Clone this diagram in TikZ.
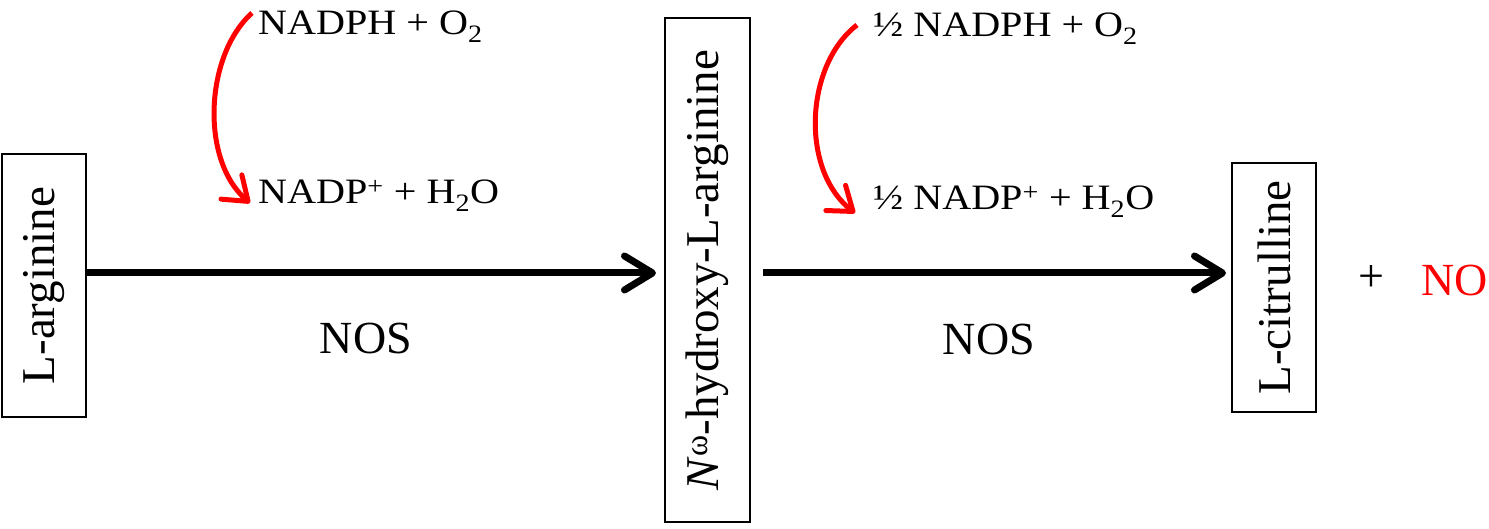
\documentclass[tikz,border=0pt]{standalone}
\usepackage{fontspec}
\usepackage{graphicx}
\setmainfont{Liberation Serif}
\usetikzlibrary{arrows.meta}
\newcommand{\wide}[1]{\scalebox{1.18}[1.05]{#1}}
\tikzset{
  molbox/.style={draw, line width=2pt, rotate=90, inner sep=0pt,
    font=\fontsize{47}{50}\selectfont},
  reag/.style={inner sep=0pt, anchor=base west, font=\fontsize{34}{40}\selectfont},
  biglabel/.style={inner sep=0pt, font=\fontsize{46}{50}\selectfont},
  mainarrow/.style={line width=7pt, -{Straight Barb[length=28pt,width=34pt,round]}},
  redarrow/.style={red, line width=5pt, -{Straight Barb[length=22pt,width=32pt,round]}}
}
\begin{document}
\begin{tikzpicture}[x=1pt,y=-1pt]
\useasboundingbox (0,0) rectangle (1489,529);
% boxes
\node[molbox, minimum width=263pt, minimum height=84pt] (b1) at (44,285.5) {L-arginine};
\node[molbox, minimum width=504pt, minimum height=85pt] (b2) at (707.5,270) {\textit{N}\raisebox{0.5ex}{\fontsize{32}{34}\selectfont ω}-hydroxy-L-arginine};
\node[molbox, minimum width=249pt, minimum height=84pt] (b3) at (1274,287.5) {L-citrulline};
% reagents
\node[reag] (r1) at (258,35) {\wide{NADPH + O\textsubscript{2}}};
\node[reag] (r2) at (258,204) {\wide{NADP\textsuperscript{+} + H\textsubscript{2}O}};
\node[reag] (r3) at (873,37) {\wide{½ NADPH + O\textsubscript{2}}};
\node[reag] (r4) at (873,210) {\wide{½ NADP\textsuperscript{+} + H\textsubscript{2}O}};
% enzyme labels
\node[biglabel] (n1) at (366,338) {NOS};
\node[biglabel] (n2) at (989,339) {NOS};
\node[biglabel] (plus) at (1371,279) {+};
\node[biglabel, anchor=west, text=red] (no) at (1421,280) {NO};
% main arrows
\coordinate (ya) at (0,273);
\draw[mainarrow] (b1.south |- ya) -- ([xshift=-8pt]b2.north |- ya);
\draw[mainarrow] ([xshift=12pt]b2.south |- ya) -- ([xshift=-5pt]b3.north |- ya);
% red curved arrows
\coordinate (s1) at (252,13);
\coordinate (e1) at (250,203);
\coordinate (s2) at (857,25);
\coordinate (e2) at (855,213);
\draw[redarrow] (s1) .. controls (205,55) and (200,160) .. (e1);
\draw[redarrow] (s2) .. controls (805,65) and (800,170) .. (e2);
\end{tikzpicture}
\end{document}
